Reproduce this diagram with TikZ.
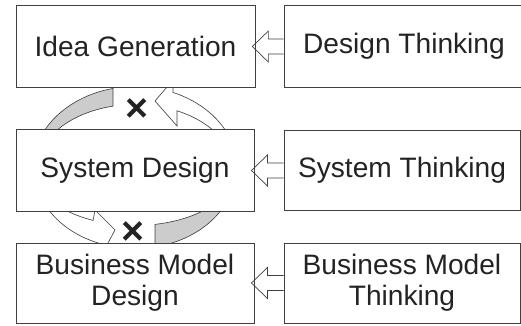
\documentclass[tikz,border=0pt]{standalone}
\usepackage{fontspec}
\setmainfont{Liberation Sans}
\usetikzlibrary{calc,backgrounds}

\definecolor{color0}{RGB}{255,255,255}
\definecolor{color1}{RGB}{204,204,204}
\definecolor{color2}{RGB}{64,64,64}
\definecolor{color3}{RGB}{35,35,35}

\tikzset{
	box/.style={fill=color0, draw=color2, line width=0.6pt, inner sep=0pt, align=center, text=color3, font=\fontsize{20}{22}\selectfont},
	band/.style={draw=color2, line width=0.45pt},
	hollowarrow/.style={draw=color2, line width=0.5pt},
	cross/.style={text=color3, inner sep=0pt, font=\fontsize{28}{30}\selectfont\bfseries},
}

\begin{document}
\begin{tikzpicture}[x=0.025cm, y=0.025cm]
	\useasboundingbox (0,0) rectangle (521,325);
	% left column
	\node[box, minimum width=5.97cm, minimum height=2.03cm] (idea) at (135.5,278.5) {Idea Generation};
	\node[box, minimum width=5.95cm, minimum height=2.06cm] (sysdes) at (135,154.5) {System Design};
	\node[box, minimum width=5.95cm, minimum height=2cm] (bmd) at (135,42) {Business Model\\Design};
	% right column
	\node[box, minimum width=6cm, minimum height=2.03cm] (dthink) at (404,278.5) {Design Thinking};
	\node[box, minimum width=5.9cm, minimum height=2cm] (sthink) at (402,155) {System Thinking};
	\node[box, minimum width=5.9cm, minimum height=2cm] (bmthink) at (402,42) {Business Model\\Thinking};
	% hollow arrows into the left column
	\foreach \from/\to in {dthink/idea, sthink/sysdes, bmthink/bmd}
		\draw[hollowarrow] ($(\from.west |- \to.east)+(0,7.5)$) -- ($(\to.east)+(13,7.5)$) -- ($(\to.east)+(13,15.5)$) -- ($(\to.east)+(-3,0)$) -- ($(\to.east)+(13,-15.5)$) -- ($(\to.east)+(13,-7.5)$) -- ($(\from.west |- \to.east)+(0,-7.5)$);
	% loops round system design, behind the boxes
	\begin{scope}[on background layer]
		\draw[band, fill=color1] ([shift={(102.33:103 and 84)}]sysdes.center) arc[start angle=102.33, end angle=165, x radius=103, y radius=84] -- ([shift={(165:98.5 and 66)}]sysdes.center) arc[start angle=165, end angle=102.91, x radius=98.5, y radius=66] -- cycle;
		\draw[band, fill=color0] (155,224) -- (173,245) -- ([shift={(68.35:103 and 84)}]sysdes.center) arc[start angle=68.35, end angle=20, x radius=103, y radius=84] -- ([shift={(20:98.5 and 66)}]sysdes.center) arc[start angle=20, end angle=64.76, x radius=98.5, y radius=66] -- (177,199) -- cycle;
		\draw[band, fill=color0] ([shift={(-160:100 and 78)}]sysdes.center) arc[start angle=-160, end angle=-110.5, x radius=100, y radius=78] -- (102,71) -- (115,95) -- (95,115) -- ([shift={(-114.8:100 and 55)}]sysdes.center) arc[start angle=-114.8, end angle=-160, x radius=100, y radius=55] -- cycle;
		\draw[band, fill=color1] ([shift={(-78.46:100 and 55)}]sysdes.center) arc[start angle=-78.46, end angle=-20, x radius=100, y radius=55] -- ([shift={(-20:100 and 78)}]sysdes.center) arc[start angle=-20, end angle=-78.46, x radius=100, y radius=78] -- cycle;
	\end{scope}
	\node[cross] (crossa) at (136.5,214.5) {×};
	\node[cross] (crossb) at (133,92) {×};
\end{tikzpicture}
\end{document}
